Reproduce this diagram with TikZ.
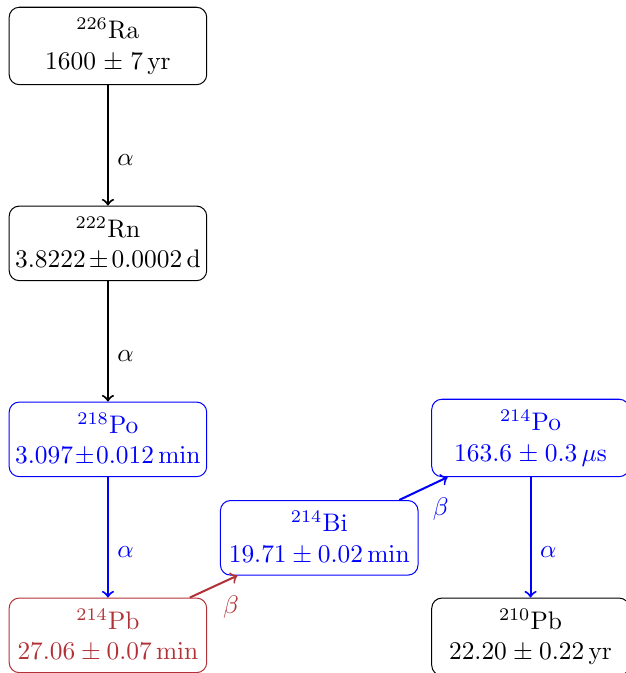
\documentclass[tikz,border=0pt]{standalone}
\usepackage{xcolor}
\usepackage{tikz}
\usetikzlibrary{positioning}
\definecolor{pbred}{HTML}{B03236}
\tikzset{
  nuc/.style ={rounded corners=4pt,draw,text width=73pt,align=center,
               inner xsep=2.4pt,inner ysep=4.2pt},
  decay/.style={->,thick}
}
\begin{document}
\begin{tikzpicture}[node distance=47.4pt]
    \useasboundingbox (-42.5pt,18.1pt) rectangle (203.9pt,-246.9pt);
    \node[nuc] (ra226) {$^{226}$Ra\\$1600\pm7\,\mathrm{yr}$};
    \node[nuc,below=of ra226] (rn222) {$^{222}$Rn\\$3.8222\pm0.0002\,\mathrm{d}$};
    \node[nuc,below=of rn222,blue] (po218) {$^{218}$Po\\$3.097\pm0.012\,\mathrm{min}$};
    \node[nuc,below=of po218,pbred] (pb214) {$^{214}$Pb\\$27.06\pm0.07\,\mathrm{min}$};
    \node[nuc,below right=9pt and 5pt of po218,blue] (bi214) {$^{214}$Bi\\$19.71\pm0.02\,\mathrm{min}$};
    \node[nuc,above right=9pt and 5pt of bi214,blue] (po214) {$^{214}$Po\\$163.6\pm0.3\,\mu\mathrm{s}$};
    \node[nuc,below=of po214] (pb210) {$^{210}$Pb\\$22.20\pm0.22\,\mathrm{yr}$};
    \draw[decay] (ra226) -- node[below right]{$\alpha$} (rn222);
    \draw[decay] (rn222) -- node[below right]{$\alpha$} (po218);
    \draw[decay,blue] (po218) -- node[below right]{$\alpha$} (pb214);
    \draw[decay,pbred] (pb214) -- node[below right]{$\beta$} (bi214);
    \draw[decay,blue] (bi214) -- node[below right]{$\beta$} (po214);
    \draw[decay,blue] (po214) -- node[below right]{$\alpha$} (pb210);
  \end{tikzpicture}
\end{document}
